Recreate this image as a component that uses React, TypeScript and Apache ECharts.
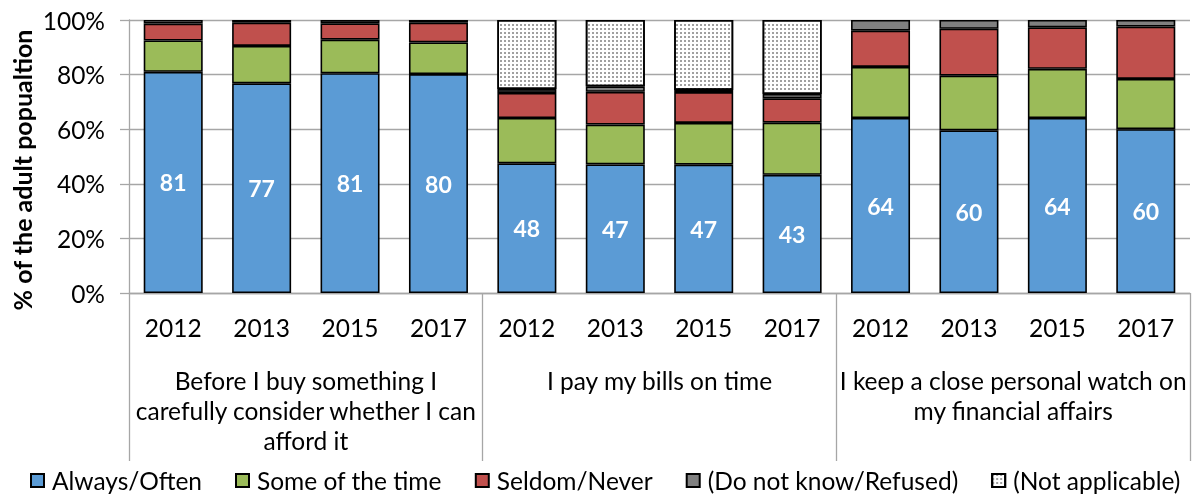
import React, { useEffect, useRef } from "react";
import * as echarts from "echarts";

const years = ["2012", "2013", "2015", "2017", "2012", "2013", "2015", "2017", "2012", "2013", "2015", "2017"];
const groups = [
  "Before I buy something I\ncarefully consider whether I can\nafford it",
  "I pay my bills on time",
  "I keep a close personal watch on\nmy financial affairs",
];
const yTicks = [0, 20, 40, 60, 80, 100];
const yTitle = "% of the adult popualtion";

const alwaysOften = [81, 76.8, 80.5, 80.2, 47.5, 47.1, 47.0, 43.3, 64.1, 59.6, 64.1, 60.0];
const someOfTime = [11.5, 13.7, 12.3, 11.6, 16.6, 14.6, 15.3, 19.1, 18.7, 20.0, 18.0, 18.4];
const seldomNever = [6.2, 8.5, 6.0, 7.2, 9.2, 12.0, 11.3, 8.9, 13.3, 17.2, 15.2, 19.2];
const doNotKnow = [1.3, 1.0, 1.2, 1.0, 1.4, 2.0, 0.8, 1.6, 3.9, 3.2, 2.7, 2.4];
const notApplicable = [null, null, null, null, 25.3, 24.3, 25.6, 27.1, null, null, null, null];

const FONT = "Lato";
const FS = 24.5;

export default function App() {
  const ref = useRef<HTMLDivElement>(null);
  useEffect(() => {
    const chart = echarts.init(ref.current!, null, { renderer: "svg" });
    const border = { borderColor: "#000", borderWidth: 1.6 };
    const mk = (name: string, data: any[], color: string, extra: any = {}) => ({
      name,
      type: "bar",
      stack: "all",
      barWidth: 59,
      data,
      itemStyle: { color, ...border, ...(extra.itemStyle || {}) },
      label: extra.label || { show: false },
      emphasis: { disabled: true },
    });
    chart.setOption({
      animation: false,
      textStyle: { fontFamily: FONT },
      grid: { left: 129, right: 7, top: 20, bottom: 202 },
      legend: {
        bottom: 2,
        left: 30,
        width: 1167,
        padding: 0,
        icon: "rect",
        itemWidth: 13,
        itemHeight: 13,
        itemGap: 33,
        textStyle: { fontFamily: FONT, fontSize: FS, color: "#000", padding: [0, 0, 0, 3] },
        data: ["Always/Often", "Some of the time", "Seldom/Never", "(Do not know/Refused)", "(Not applicable)"],
      },
      graphic: [
        {
          type: "text",
          x: 22,
          y: 170,
          rotation: Math.PI / 2,
          style: {
            text: yTitle,
            align: "center",
            verticalAlign: "middle",
            fontFamily: FONT,
            fontSize: 25,
            fontWeight: "bold",
            fill: "#000",
          },
        },
      ],
      xAxis: [
        {
          type: "category",
          data: years,
          position: "bottom",
          axisLine: { show: true, lineStyle: { color: "#a6a6a6", width: 1.3 } },
          axisTick: { show: false },
          axisLabel: { fontFamily: FONT, fontSize: FS, color: "#000", margin: 22 },
        },
        {
          type: "category",
          data: groups,
          position: "bottom",
          axisLine: { show: false },
          axisTick: { show: true, length: 168, lineStyle: { color: "#a6a6a6", width: 1.3 } },
          axisLabel: { fontFamily: FONT, fontSize: FS, color: "#000", margin: 72, lineHeight: 30, interval: 0 },
        },
      ],
      yAxis: {
        type: "value",
        min: 0,
        max: 100,
        interval: 20,
        axisLine: { show: true, lineStyle: { color: "#a6a6a6", width: 1.3 } },
        axisTick: { show: true, length: 9, lineStyle: { color: "#a6a6a6", width: 1.3 } },
        axisLabel: {
          fontFamily: FONT,
          fontSize: FS,
          color: "#000",
          margin: 24,
          formatter: (v: number) => (yTicks.includes(v) ? v + "%" : ""),
        },
        splitLine: { show: true, lineStyle: { color: "#a6a6a6", width: 1.3 } },
      },
      series: [
        mk("Always/Often", alwaysOften, "#5B9BD5", {
          label: {
            show: true,
            position: "inside",
            color: "#fff",
            fontFamily: FONT,
            fontWeight: "bold",
            fontSize: 23,
            formatter: (p: any) => String(Math.round(p.value)),
          },
        }),
        mk("Some of the time", someOfTime, "#9BBB59"),
        mk("Seldom/Never", seldomNever, "#C0504D"),
        mk("(Do not know/Refused)", doNotKnow, "#808080"),
        mk("(Not applicable)", notApplicable, "#ffffff", {
          itemStyle: {
            decal: {
              symbol: "rect",
              symbolSize: 1,
              dashArrayX: [2, 2],
              dashArrayY: [2, 2],
              color: "rgba(128,128,128,0.75)",
            },
          },
        }),
      ],
    });
    return () => chart.dispose();
  }, []);
  return <div ref={ref} style={{ position: "fixed", left: 0, top: 0, width: 1197, height: 495 }} />;
}
